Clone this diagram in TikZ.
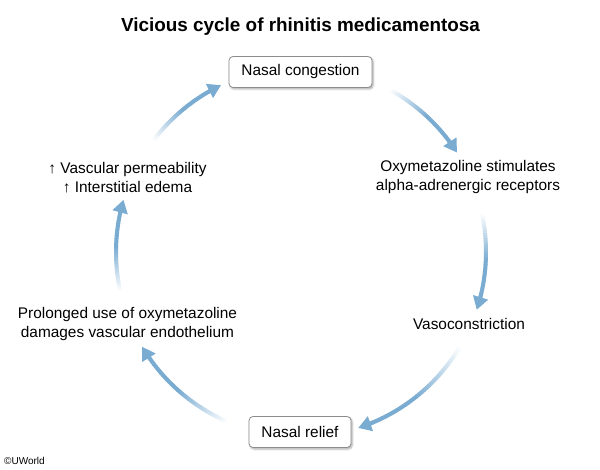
\documentclass[tikz,border=0pt]{standalone}
\usepackage{fontspec}
\setmainfont{Liberation Sans}
\usetikzlibrary{calc,arrows.meta,shadows.blur}
\definecolor{arrowblue}{HTML}{7AACD2}
\definecolor{boxgray}{HTML}{8C8C8C}
\tikzset{
  label/.style={align=center, font=\fontsize{15.4}{19}\selectfont, inner sep=0pt},
  boxnode/.style={draw=boxgray, line width=0.8pt, rounded corners=4pt, fill=white,
    font=\fontsize{15.4}{19}\selectfont, inner sep=0pt,
    blur shadow={shadow xshift=1.2pt, shadow yshift=-1.5pt, shadow blur radius=2pt, shadow opacity=35}},
}
\newcommand{\fadearc}[2]{%
  \foreach \i in {0,...,35} {
    \pgfmathsetmacro\aa{#1+((#2)-(#1)-4)*\i/36}
    \pgfmathsetmacro\bb{#1+((#2)-(#1)-4)*(\i+1.3)/36}
    \pgfmathsetmacro\pc{min(100,\i*100/20)}
    \draw[line width=4pt, draw=arrowblue!\pc!white] ($(C)+(\aa:185)$) -- ($(C)+(\bb:185)$);
  }
  \draw[line width=4pt, arrowblue, -{Triangle[width=15pt,length=13pt]}]
    ($(C)+(#2-4.5:185)$) -- ($(C)+(#2-2.2:185)$) -- ($(C)+(#2:185)$);
}
\begin{document}
\begin{tikzpicture}[x=1pt,y=-1pt]
\useasboundingbox (0,0) rectangle (600,470);
\coordinate (C) at (301,252);

\node[font=\bfseries\fontsize{18.9}{22}\selectfont] (title) at (300.5,27) {Vicious cycle of rhinitis medicamentosa};

\node[boxnode, minimum width=143pt, minimum height=31pt] (cong) at (300.5,72) {Nasal congestion};
\node[label] (oxy) at (468,177.5) {Oxymetazoline stimulates\\alpha-adrenergic receptors};
\node[label] (vaso) at (469,324) {Vasoconstriction};
\node[boxnode, minimum width=102pt, minimum height=31pt] (relief) at (300,432) {Nasal relief};
\node[label] (prol) at (127.5,324) {Prolonged use of oxymetazoline\\damages vascular endothelium};
\node[label] (perm) at (127.5,177.5) {↑ Vascular permeability\\↑ Interstitial edema};

\node[anchor=west, font=\fontsize{10}{11}\selectfont, inner sep=0pt] (uw) at (4,461) {©UWorld};

\fadearc{-61.5}{-32.5}
\fadearc{-12.5}{18.2}
\fadearc{30.3}{72}
\fadearc{112.9}{149.2}
\fadearc{167.3}{196.4}
\fadearc{216.7}{244.4}
\end{tikzpicture}
\end{document}
